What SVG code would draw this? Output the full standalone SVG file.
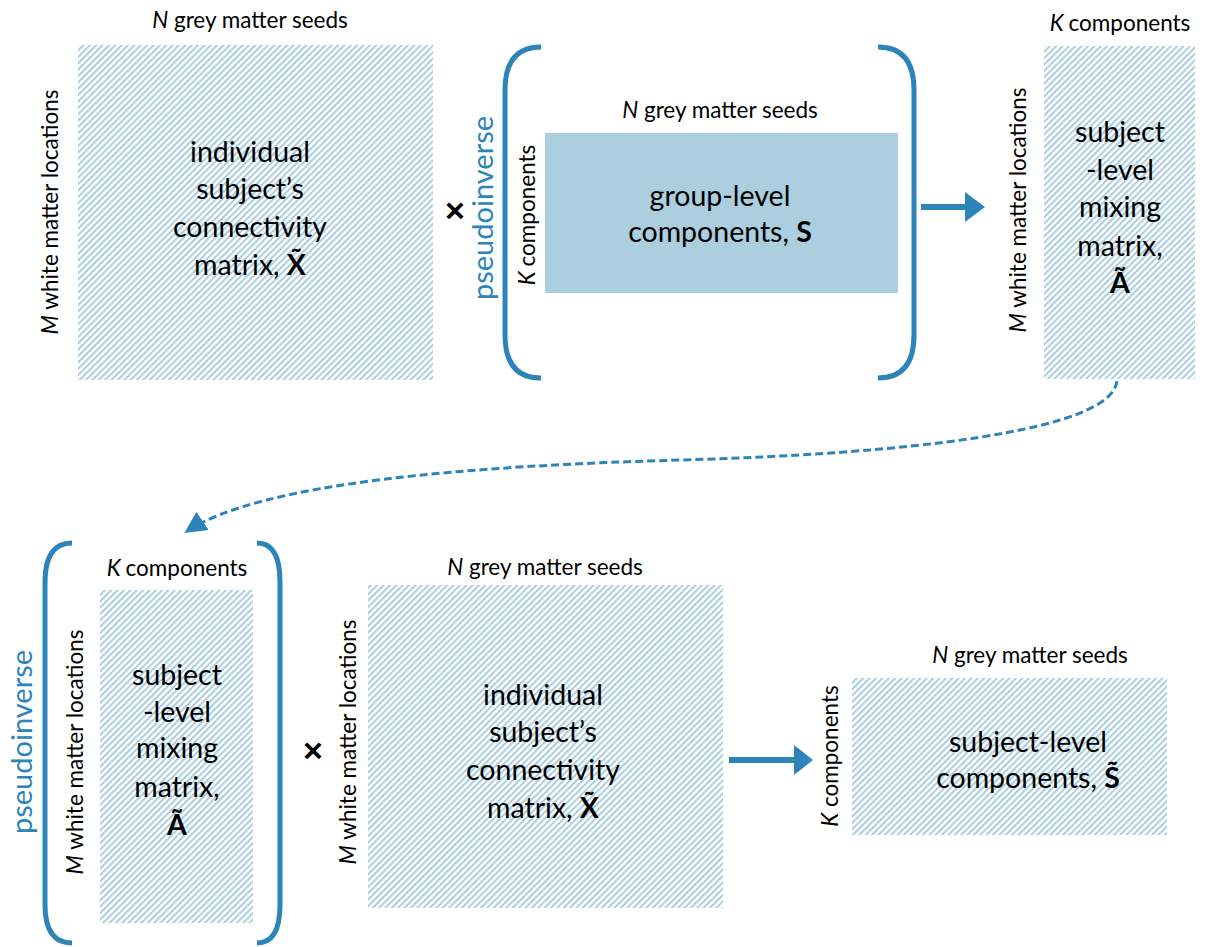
<svg xmlns="http://www.w3.org/2000/svg" width="1209" height="947" viewBox="0 0 1209 947">
<defs>
<pattern id="hatch" patternUnits="userSpaceOnUse" width="4.5" height="4.5" patternTransform="rotate(45)">
<rect width="4.5" height="4.5" fill="#ffffff"/>
<line x1="1" y1="0" x2="1" y2="4.5" stroke="#a9cde1" stroke-width="2"/>
</pattern>
<marker id="dhead" markerWidth="24" markerHeight="24" refX="20" refY="12" orient="auto" markerUnits="userSpaceOnUse" viewBox="0 0 24 24">
<path d="M0,1 L22,12 L0,23 Z" fill="#2c84b8"/>
</marker>
</defs>
<style>
.lbl{font-family:Lato,"Liberation Sans",sans-serif;font-size:22.5px;fill:#000;text-anchor:middle}
.big{font-family:Lato,"Liberation Sans",sans-serif;font-size:28.5px;fill:#000;text-anchor:middle}
.pi{font-family:Lato,"Liberation Sans",sans-serif;font-size:29px;fill:#2c84b8;text-anchor:middle}
.it{font-style:italic}
.b{font-weight:bold}
.mat{fill:url(#hatch)}
.brk{fill:none;stroke:#2c84b8;stroke-width:5;stroke-linecap:butt}
.times{font-family:"Liberation Sans",sans-serif;font-size:34px;font-weight:bold;fill:#000;text-anchor:middle}
</style>

<g id="top-X">
<text class="lbl" x="250" y="28"><tspan class="it">N</tspan> grey matter seeds</text>
<text class="lbl" transform="translate(58,212) rotate(-90)"><tspan class="it">M</tspan> white matter locations</text>
<rect class="mat" x="78" y="45" width="355" height="335"/>
<text class="big" x="250" y="162">individual</text>
<text class="big" x="250" y="199">subject’s</text>
<text class="big" x="250" y="237">connectivity</text>
<text class="big" x="250" y="275">matrix, <tspan class="b">X̃</tspan></text>
</g>

<g id="top-times">
<text class="times" x="455" y="222">×</text>
</g>

<g id="top-pinv">
<text class="pi" transform="translate(493,208) rotate(-90)">pseudoinverse</text>
<path class="brk" d="M541,47 Q505,47 505,90 L505,335 Q505,378 541,378"/>
<path class="brk" d="M878,47 Q914,47 914,90 L914,335 Q914,378 878,378"/>
<text class="lbl" transform="translate(535,215) rotate(-90)"><tspan class="it">K</tspan><tspan dx="5">components</tspan></text>
<text class="lbl" x="720" y="118"><tspan class="it">N</tspan> grey matter seeds</text>
<rect x="545" y="133" width="353" height="160" fill="#abcfdf"/>
<text class="big" x="720" y="206">group-level</text>
<text class="big" x="720" y="242">components, <tspan class="b">S</tspan></text>
</g>

<g id="top-A">
<text class="lbl" x="1120" y="31"><tspan class="it">K</tspan><tspan dx="5">components</tspan></text>
<text class="lbl" transform="translate(1026,210) rotate(-90)"><tspan class="it">M</tspan> white matter locations</text>
<rect class="mat" x="1044" y="46" width="151" height="333"/>
<text class="big" x="1120" y="142">subject</text>
<text class="big" x="1120" y="180">-level</text>
<text class="big" x="1120" y="217">mixing</text>
<text class="big" x="1120" y="256">matrix,</text>
<text class="big b" x="1120" y="293">Ã</text>
</g>

<g id="bottom-pinv">
<text class="pi" transform="translate(32,742) rotate(-90)">pseudoinverse</text>
<path class="brk" d="M72,543 Q45,543 45,582 L45,905 Q45,943 72,943"/>
<path class="brk" d="M257,543 Q280,543 280,582 L280,905 Q280,943 257,943"/>
<text class="lbl" x="177" y="576"><tspan class="it">K</tspan><tspan dx="5">components</tspan></text>
<text class="lbl" transform="translate(83,752) rotate(-90)"><tspan class="it">M</tspan> white matter locations</text>
<rect class="mat" x="100" y="590" width="153" height="333"/>
<text class="big" x="177" y="685">subject</text>
<text class="big" x="177" y="722">-level</text>
<text class="big" x="177" y="758">mixing</text>
<text class="big" x="177" y="797">matrix,</text>
<text class="big b" x="177" y="835">Ã</text>
</g>

<g id="bottom-times">
<text class="times" x="313" y="762">×</text>
</g>

<g id="bottom-X">
<text class="lbl" transform="translate(356,742) rotate(-90)"><tspan class="it">M</tspan> white matter locations</text>
<text class="lbl" x="545" y="575"><tspan class="it">N</tspan> grey matter seeds</text>
<rect class="mat" x="368" y="585" width="355" height="323"/>
<text class="big" x="543" y="705">individual</text>
<text class="big" x="543" y="742">subject’s</text>
<text class="big" x="543" y="780">connectivity</text>
<text class="big" x="543" y="818">matrix, <tspan class="b">X̃</tspan></text>
</g>

<g id="bottom-S">
<text class="lbl" transform="translate(838,756) rotate(-90)"><tspan class="it">K</tspan> components</text>
<text class="lbl" x="1030" y="663"><tspan class="it">N</tspan> grey matter seeds</text>
<rect class="mat" x="852" y="678" width="315" height="157"/>
<text class="big" x="1028" y="752">subject-level</text>
<text class="big" x="1028" y="788">components, <tspan class="b">S̃</tspan></text>
</g>

<g id="connectors">
<line x1="921" y1="207" x2="966" y2="207" stroke="#2c84b8" stroke-width="6"/>
<path d="M965,192 L985,207 L965,222 Z" fill="#2c84b8"/>
<line x1="729" y1="760" x2="795" y2="760" stroke="#2c84b8" stroke-width="6"/>
<path d="M794,745 L813,760 L794,775 Z" fill="#2c84b8"/>
<path d="M1117,381 C1112,432 900,454 680,460 C470,466 260,482 186,532" fill="none" stroke="#2c84b8" stroke-width="3" stroke-dasharray="8,4" marker-end="url(#dhead)"/>
</g>
</svg>
